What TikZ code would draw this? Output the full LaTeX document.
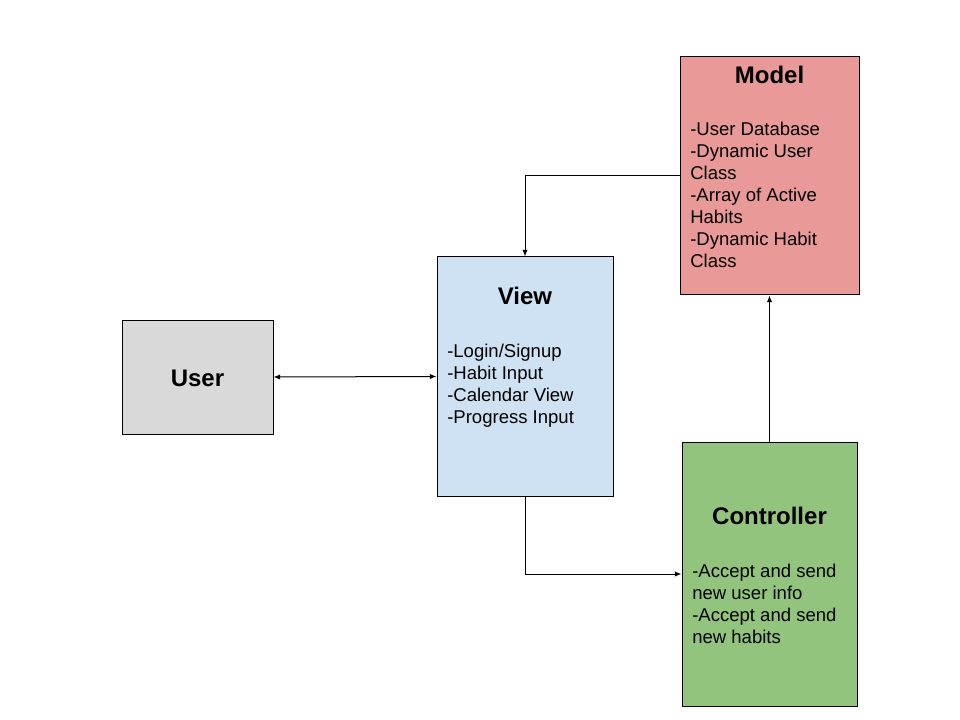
\documentclass[tikz,border=0pt]{standalone}
\usepackage{fontspec}
\setmainfont{Liberation Sans}
\usetikzlibrary{arrows.meta}
\definecolor{usergray}{HTML}{D9D9D9}
\definecolor{viewblue}{HTML}{CFE2F3}
\definecolor{modelred}{HTML}{EA9999}
\definecolor{ctrlgreen}{HTML}{93C47D}
\tikzset{
  box/.style={draw, line width=0.75pt, inner sep=0pt},
  title/.style={font=\fontsize{18}{21}\selectfont\bfseries},
  body/.style={font=\fontsize{13.9}{16.5}\selectfont, align=left, anchor=north west, inner sep=0pt},
  link/.style={line width=0.75pt, -{Latex[length=5pt, width=4pt]}},
}
\begin{document}
\begin{tikzpicture}[x=0.75pt, y=-0.75pt]
        \useasboundingbox (0, 0) rectangle (960, 720);
        \node[box, fill=usergray, minimum width=113.25pt, minimum height=85.5pt] (user) at (197.5, 377) {};
        \node[box, fill=viewblue, minimum width=132pt, minimum height=179.25pt] (view) at (525, 376.5) {};
        \node[box, fill=modelred, minimum width=134.25pt, minimum height=178.5pt] (model) at (769.5, 176) {};
        \node[box, fill=ctrlgreen, minimum width=131.25pt, minimum height=198pt] (controller) at (769.5, 574) {};

        \node[title] (usertitle) at (197.5, 378) {User};
        \node[title] (viewtitle) at (525, 296) {View};
        \node[title] (modeltitle) at (769.5, 75) {Model};
        \node[title] (ctrltitle) at (769.5, 516) {Controller};

        \node[body] (viewtext) at (447, 344) {-Login/Signup\\-Habit Input\\-Calendar View\\-Progress Input};
        \node[body] (modeltext) at (690, 122) {-User Database\\-Dynamic User\\Class\\-Array of Active\\Habits\\-Dynamic Habit\\Class};
        \node[body] (ctrltext) at (692, 564) {-Accept and send\\new user info\\-Accept and send\\new habits};

        \draw[link, {Latex[length=5pt, width=4pt]}-{Latex[length=5pt, width=4pt]}] (user.east) -- (view.west);
        \draw[link] (model.west) -| (view.north);
        \draw[link] (view.south) |- (controller.west);
        \draw[link] (controller.north) -- (model.south);
      \end{tikzpicture}
\end{document}
